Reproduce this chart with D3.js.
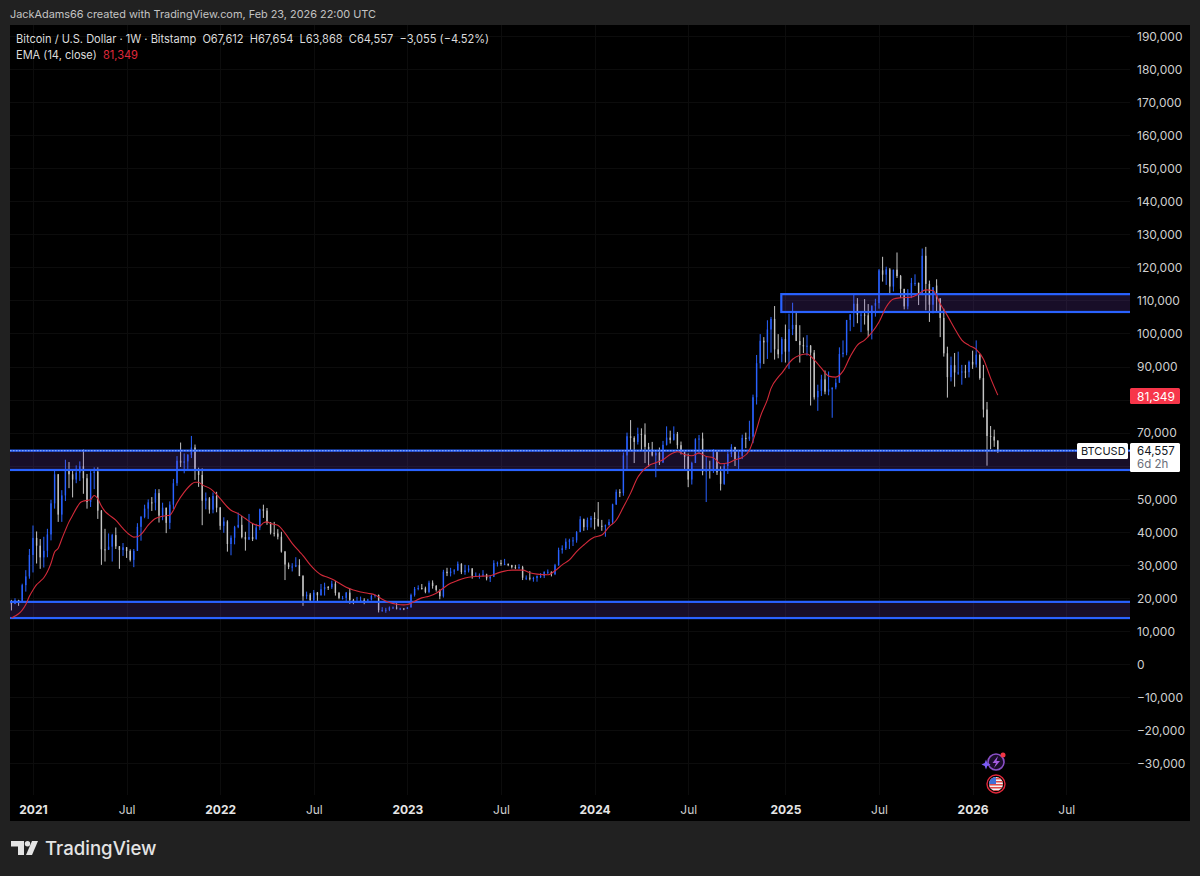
<!DOCTYPE html>
<html>
<head>
<meta charset="utf-8">
<script src="https://cdn.jsdelivr.net/npm/d3@7"></script>
<style>
  html, body { margin: 0; padding: 0; background: #212121; }
  svg { display: block; font-family: Inter, "Noto Sans", sans-serif; }
</style>
</head>
<body>
<svg id="chart" width="1200" height="876"></svg>
<script>
// weekly bars, Monday open, first bar is the week of 2020-11-23
const opens = [
  18400,18200,19370,18800,23850,26500,
  33000,38150,35800,32260,34250,39200,48600,57400,45200,51000,59000,57400,55800,57900,59800,56200,49000,57800,58200,46400,34700,34600,35500,39000,35600,34500,35300,34200,31500,34200,41500,44500,47000,48900,48800,51700,44900,47300,42700,48200,54700,61500,60900,61300,63300,65500,59000,57200,49400,50100,46700,50800,
  47300,41800,43100,36300,38200,41400,42100,38400,37700,38400,37800,41300,46800,46400,42800,39700,39500,38500,34000,30100,29400,29500,29900,26600,20500,21000,19300,21600,20800,22600,23300,23200,24300,21500,20000,20000,21600,19400,18800,19000,19400,19200,19500,20600,20900,16300,16300,16400,17100,17100,16800,16800,
  16700,17100,20900,22700,23000,22900,21800,24600,23600,22400,20500,27900,27500,28000,28300,30300,27800,28300,28900,26700,26700,26800,27100,25900,26400,30500,30600,30300,30300,29900,29300,29000,29300,26100,26100,25900,26000,26600,26600,27900,27900,27200,29900,34500,35000,37000,37400,37400,39900,43800,41400,43600,
  44200,43900,41800,41600,42000,43000,48300,52100,51700,63100,68900,68400,67200,69600,69400,65700,64900,63100,63900,61000,66300,68500,67800,69600,66200,64300,62700,55800,60800,68000,68200,58200,58700,58400,64100,58000,54500,59900,63500,65700,62000,63000,68400,68100,68800,80700,91000,97800,97300,101200,104400,95200,93700,
  98300,94500,101300,102600,97700,96500,96100,96300,94200,80700,82600,86100,82400,83100,83700,85100,93800,94200,104100,106500,109000,105700,105700,105500,100900,108400,109200,119100,117800,119400,114200,119300,117400,113500,108200,111100,115300,115300,112100,123500,115000,108700,114500,110600,104700,94000,86800,90400,88200,88200,88500,88300,
  91400,90600,93600,86500,77000,69000,68800,67612
];
const highs = [
  19400,19900,19420,24300,28400,34800,
  41900,40100,37800,38500,40900,49700,58400,57500,52600,61800,61100,58400,60100,61300,64900,57500,58500,59500,59500,46600,40900,39500,39400,41300,35700,36600,35400,34700,34800,42600,44800,48200,49800,50500,52900,52900,48800,47300,49200,56000,62900,67000,63700,63500,69000,66400,59400,59200,51900,50500,51900,52100,
  47500,44400,43500,38900,41800,45800,44800,40000,45400,42600,42400,47000,48200,47200,42900,43000,40800,40000,34200,30700,30500,32300,31700,26900,21900,21500,22400,21800,24200,24600,23600,25200,25100,21800,20600,21800,22800,19700,20300,20400,19900,19700,21000,21000,21000,17200,17000,17400,17400,18400,17000,16900,
  17200,21300,23300,23800,24200,23400,25200,25300,23900,22600,28500,29100,29100,28700,31000,30500,30000,29900,29000,27700,27400,28400,27300,26800,31400,31000,31500,31800,30400,30000,30000,30200,29700,26800,28100,26400,26800,27500,28000,28600,28000,30300,35200,35900,38000,37900,38400,40200,44700,44000,44300,44800,
  45900,49000,43600,42200,43800,48500,52800,52900,64000,70000,73800,68900,71500,71300,72800,66900,67200,64700,65500,67500,71900,70600,71900,70200,67300,63400,63700,61200,68300,69300,70000,62700,61500,65000,64500,59800,60600,64100,66500,65600,64500,69400,70000,73600,81500,93500,99800,98900,104000,105000,108300,99800,98900,
  102700,106000,109300,106500,102500,98800,99500,96500,95000,84500,87500,88800,88500,83500,86400,95800,97900,104000,105800,112000,110700,106800,110400,108900,108500,110500,119500,123200,120200,119800,119300,124500,117700,113500,113400,116800,117900,115400,125700,126200,116000,114000,116400,110700,107500,96000,93000,94100,94500,90500,90500,91800,
  94800,97900,93700,90500,79300,72000,70900,67654
];
const lows = [
  16200,18100,17600,18700,21900,25800,
  27700,30400,28800,29200,32300,37400,47000,43000,43000,49300,53200,50400,54700,55400,51500,47000,47500,52900,43900,30000,31000,34500,31000,34800,28800,32700,32100,31000,29300,34200,37300,44100,43900,46300,46500,42800,43500,39600,40800,46900,53900,59600,57700,59000,62300,55700,53600,42000,46800,45500,45600,45900,
  40600,39700,34000,32900,36200,41100,38000,34300,37500,37200,37600,40500,44200,42100,39200,38600,37700,33700,25400,28700,28000,29300,26600,17600,19600,18600,19000,18900,20700,20700,22400,22700,20700,19600,19500,18500,18200,18100,18500,19100,18100,18900,19200,20100,15600,15800,15500,16000,16700,16500,16300,16300,
  16600,17100,20400,22300,22500,21400,21400,22800,21900,19600,20100,26600,26500,27100,28200,27200,27000,27700,25800,26500,25800,26500,25300,24800,26300,29500,29700,29900,29600,28900,28700,28700,25400,25400,25300,24900,24900,26000,26000,27200,26500,26900,29700,33400,34500,34800,35700,36700,39900,40300,40500,41300,
  40700,41500,40300,38500,41900,42300,48100,50500,50900,59000,64500,60800,66400,64500,60800,59700,62800,56500,60200,60800,66100,66700,67600,65100,63400,58400,53500,54300,60800,63500,57100,49000,56100,57800,57200,52500,54200,57500,62600,59900,58900,62000,65300,67500,66800,78500,89400,90800,92300,94200,92100,92500,91300,
  91200,89300,99500,97800,91200,94100,93300,78200,80000,76600,81100,81600,81300,74500,83100,85100,92800,93400,100700,102000,103100,100400,102700,98900,98200,105100,107500,115700,114700,112000,112700,116800,110700,107300,107300,110700,114400,108600,111600,107000,103500,106100,106300,98900,93000,80600,85500,83900,87500,84500,86500,86700,
  89300,89700,86000,74600,60000,65000,65700,63868
];
const closes = [
  18200,19370,18800,23850,26500,33000,
  38150,35800,32260,34250,39200,48600,57400,45200,51000,59000,57400,55800,57900,59800,56200,49000,57800,58200,46400,34700,34600,35500,39000,35600,34500,35300,34200,31500,34200,41500,44500,47000,48900,48800,51700,44900,47300,42700,48200,54700,61500,60900,61300,63300,65500,59000,57200,49400,50100,46700,50800,47300,
  41800,43100,36300,38200,41400,42100,38400,37700,38400,37800,41300,46800,46400,42800,39700,39500,38500,34000,30100,29400,29500,29900,26600,20500,21000,19300,21600,20800,22600,23300,23200,24300,21500,20000,20000,21600,19400,18800,19000,19400,19200,19500,20600,20900,16300,16300,16400,17100,17100,16800,16800,16700,
  17100,20900,22700,23000,22900,21800,24600,23600,22400,20500,27900,27500,28000,28300,30300,27800,28300,28900,26700,26700,26800,27100,25900,26400,30500,30600,30300,30300,29900,29300,29000,29300,26100,26100,25900,26000,26600,26600,27900,27900,27200,29900,34500,35000,37000,37400,37400,39900,43800,41400,43600,44200,
  43900,41800,41600,42000,43000,48300,52100,51700,63100,68900,68400,67200,69600,69400,65700,64900,63100,63900,61000,66300,68500,67800,69600,66200,64300,62700,55800,60800,68000,68200,58200,58700,58400,64100,58000,54500,59900,63500,65700,62000,63000,68400,68100,68800,80700,91000,97800,97300,101200,104400,95200,93700,98300,
  94500,101300,102600,97700,96500,96100,96300,94200,80700,82600,86100,82400,83100,83700,85100,93800,94200,104100,105800,109000,105700,105700,105500,100900,108400,109200,119100,117800,119400,114200,119300,117400,113500,108200,111100,115300,115300,112100,123500,115000,108700,114000,110600,104700,94000,86800,90400,88200,88200,88500,88300,91400,
  90600,93600,86500,77000,69000,68800,67612,64557
];

// EMA: bar index and value
const emaBars = [0,2,3,4,5,6,7,8,9,10,11,12,13,14,15,16,17,18,19,20,21,22,23,24,25,26,27,29,31,33,34,35,36,38,40,42,44,45,46,48,50,51,52,53,55,56,58,60,61,63,65,67,69,70,71,72,74,76,78,80,81,83,85,86,88,89,91,93,95,97,99,101,103,105,107,109,110,111,112,114,116,118,120,122,124,126,128,131,133,135,137,139,142,144,146,149,151,153,155,157,159,161,162,164,166,168,170,172,174,175,177,179,181,183,185,187,189,191,193,195,197,199,201,203,205,207,208,210,211,213,214,216,217,219,221,223,225,227,229,231,233,235,237,239,241,243,245,247,250,252,254,256,258,260,262,264,266,268,270,272,274];
const emaValues = [13900,15200,16300,18000,20500,22400,24000,25000,26100,27900,30500,33900,35000,37800,40500,43000,45000,47000,48700,49300,49500,49800,51000,50000,47800,46200,45200,43500,41000,39000,38400,38500,39200,42000,44000,44700,45000,46500,48700,52000,54400,55000,55000,54200,53200,52400,50000,47500,46500,45500,44000,42500,41800,42700,43000,42500,42000,39600,36500,34000,32800,30000,27800,27000,26200,25700,24500,23200,22400,21800,21400,20900,19600,18600,18100,17900,18000,18400,19000,20000,20500,21400,23000,24400,25300,26000,26400,26600,26700,27500,28100,28400,28400,27600,27200,27000,28200,30000,31500,34000,36000,37800,38400,39000,41500,43500,47500,51700,56500,58000,60000,60900,61800,63400,64200,63400,63000,63800,62800,62400,60600,60800,61800,62500,64700,71000,74700,80000,83400,86800,88000,91000,92200,93400,93800,92000,89500,87100,86800,88600,93000,96500,98000,100300,103500,108000,110400,110800,111000,112000,113200,113000,109000,105400,101500,98000,96400,95200,92300,86500,81349];

const priceTicks = [190000,180000,170000,160000,150000,140000,130000,120000,110000,100000,90000,70000,50000,40000,30000,20000,10000,0,-10000,-20000,-30000];
const gridPrices = d3.range(-30000, 200000, 10000);
const timeTicks = ["2021-01-04","2021-07-05","2022-01-03","2022-07-04","2023-01-02","2023-07-03","2024-01-01","2024-07-01","2025-01-06","2025-07-07","2026-01-05","2026-07-06"];
const timeLabels = ["2021","Jul","2022","Jul","2023","Jul","2024","Jul","2025","Jul","2026","Jul"];

// price zones, [top, bottom, first date]
const zoneTop = [111900, 64557, 18800];
const zoneBottom = [106500, 58700, 13900];
const zoneStart = ["2024-12-30", null, null];
const lastClose = 64557;
const lastEma = 81349;

const svg = d3.select("#chart");
const plotLeft = 10, plotRight = 1130, panelRight = 1190, panelTop = 25, panelBottom = 821;
const blue = "#2962ff", textColor = "#cfcfcf";

const firstWeek = new Date(Date.UTC(2020, 10, 23));
const weeks = closes.map((c, i) => d3.utcDay.offset(firstWeek, i * 7));

const xScale = d3.scaleUtc()
  .domain([new Date("2021-01-04"), new Date("2026-01-05")])
  .range([33, 972.6]);
const yScale = d3.scaleLinear().domain([0, 190000]).range([664, 36]);

svg.append("rect").attr("x", plotLeft).attr("y", panelTop)
  .attr("width", panelRight - plotLeft).attr("height", panelBottom - panelTop).attr("fill", "#000");

svg.append("defs").append("clipPath").attr("id", "plot-clip").append("rect")
  .attr("x", plotLeft).attr("y", panelTop).attr("width", plotRight - plotLeft).attr("height", panelBottom - panelTop);

/**
 * grid
 */
const grid = svg.append("g").attr("stroke", "#0c0c0c").attr("stroke-width", 1);
gridPrices.forEach((p) => {
  grid.append("line").attr("x1", plotLeft).attr("x2", plotRight)
    .attr("y1", Math.round(yScale(p)) + 0.5).attr("y2", Math.round(yScale(p)) + 0.5);
});
timeTicks.forEach((t) => {
  const x = Math.round(xScale(new Date(t))) + 0.5;
  grid.append("line").attr("x1", x).attr("x2", x).attr("y1", panelTop).attr("y2", 795);
});

/**
 * candles
 */
const plot = svg.append("g").attr("clip-path", "url(#plot-clip)");
const bars = plot.append("g").selectAll("g").data(weeks).enter().append("g")
  .attr("fill", (d, i) => (closes[i] >= opens[i] ? blue : "#c4c4c4"));

bars.append("rect")
  .attr("x", (d) => xScale(d) - 0.5)
  .attr("width", 1)
  .attr("y", (d, i) => yScale(highs[i]))
  .attr("height", (d, i) => yScale(lows[i]) - yScale(highs[i]));

bars.append("rect")
  .attr("x", (d) => xScale(d) - 0.7)
  .attr("width", 1.4)
  .attr("y", (d, i) => yScale(Math.max(opens[i], closes[i])))
  .attr("height", (d, i) => Math.max(1, Math.abs(yScale(opens[i]) - yScale(closes[i]))));

/**
 * zones sit over the candles
 */
zoneTop.forEach((top, i) => {
  const x0 = zoneStart[i] ? xScale(new Date(zoneStart[i])) - 0.5 : plotLeft - 3;
  plot.append("rect")
    .attr("x", x0).attr("width", plotRight + 3 - x0)
    .attr("y", yScale(top)).attr("height", yScale(zoneBottom[i]) - yScale(top))
    .attr("fill", "rgba(120,70,200,0.2)")
    .attr("stroke", blue).attr("stroke-width", 2.2);
});

plot.append("line")
  .attr("x1", plotLeft).attr("x2", plotRight)
  .attr("y1", yScale(lastClose)).attr("y2", yScale(lastClose))
  .attr("stroke", "#7ea4ff").attr("stroke-width", 1.4).attr("stroke-dasharray", "1.5 1.5");

const emaLine = d3.line()
  .x((d, i) => xScale(weeks[emaBars[i]]))
  .y((d) => yScale(d))
  .curve(d3.curveMonotoneX);

plot.append("path").attr("d", emaLine(emaValues))
  .attr("fill", "none").attr("stroke", "#d32a3a").attr("stroke-width", 1.1);

/**
 * axes
 */
const yAxis = d3.axisRight(yScale).tickValues(priceTicks).tickSize(0).tickPadding(0).tickFormat(d3.format(","));
const yG = svg.append("g").attr("transform", "translate(1137,0.5)").call(yAxis);
yG.select(".domain").remove();
yG.selectAll("text").attr("fill", textColor).style("font-size", "12px").style("font-family", "Inter");

const xAxis = d3.axisBottom(xScale).tickValues(timeTicks.map((t) => new Date(t))).tickSize(0).tickPadding(0)
  .tickFormat((d, i) => timeLabels[i]);
const xG = svg.append("g").attr("transform", "translate(0,805)").call(xAxis);
xG.select(".domain").remove();
xG.selectAll("text")
  .attr("fill", (d, i) => (timeLabels[i] === "Jul" ? textColor : "#e6e6e6"))
  .style("font-size", "12px").style("font-family", "Inter")
  .style("font-weight", (d, i) => (timeLabels[i] === "Jul" ? 400 : 700));

/**
 * price tags
 */
svg.append("rect").attr("x", 1130).attr("y", 388).attr("width", 50).attr("height", 16).attr("rx", 1.5).attr("fill", "#f7364a");
svg.append("text").attr("x", 1137).attr("y", 400.5).attr("fill", "#fff").style("font-size", "12px").text(d3.format(",")(lastEma));

svg.append("rect").attr("x", 1077).attr("y", 443).attr("width", 51).attr("height", 16).attr("rx", 1.5).attr("fill", "#fff");
svg.append("text").attr("x", 1081).attr("y", 455).attr("fill", "#131722").style("font-size", "11px").text("BTCUSD");
svg.append("rect").attr("x", 1130).attr("y", 443).attr("width", 50).attr("height", 29).attr("rx", 1.5).attr("fill", "#fff");
svg.append("text").attr("x", 1137).attr("y", 455).attr("fill", "#131722").style("font-size", "11.5px").text(d3.format(",")(lastClose));
svg.append("text").attr("x", 1137).attr("y", 468).attr("fill", "#6a6d78").style("font-size", "11.5px").text("6d 2h");

/**
 * header and legend
 */
svg.append("text").attr("x", 10).attr("y", 18).attr("fill", "#c4c4c4").style("font-size", "10.9px")
  .text("JackAdams66 created with TradingView.com, Feb 23, 2026 22:00 UTC");

const legend = svg.append("text").attr("x", 16).attr("y", 43).attr("fill", "#dcdcdc").style("font-size", "11.05px");
legend.text("Bitcoin / U.S. Dollar · 1W · Bitstamp  O67,612  H67,654  L63,868  C64,557  −3,055 (−4.52%)").style("white-space", "pre");

const legend2 = svg.append("text").attr("x", 16).attr("y", 59).attr("fill", "#dcdcdc").style("font-size", "11.05px").style("white-space", "pre");
legend2.append("tspan").text("EMA (14, close)  ");
legend2.append("tspan").attr("fill", "#e0293c").text("81,349");

/**
 * event icons
 */
const icons = svg.append("g");
icons.append("circle").attr("cx", 996).attr("cy", 762).attr("r", 8).attr("fill", "#1a0d2a").attr("stroke", "#8a4fc7").attr("stroke-width", 1.6);
icons.append("path").attr("d", "M998 756 L992.5 763 L996 763 L994 768 L1000 761 L996.500 761 Z").attr("fill", "#a45be0");
icons.append("path").attr("d", "M986 759.500 L987.300 763 L990.500 764.500 L987.300 766 L986 769.500 L984.700 766 L981.500 764.500 L984.700 763 Z").attr("fill", "#7a5cf5");
icons.append("circle").attr("cx", 1003).attr("cy", 755).attr("r", 2.5).attr("fill", "#f23645");
icons.append("circle").attr("cx", 996).attr("cy", 784).attr("r", 9).attr("fill", "#000").attr("stroke", "#e0273a").attr("stroke-width", 1.4);
const flag = icons.append("g");
flag.append("clipPath").attr("id", "flag-clip").append("circle").attr("cx", 996).attr("cy", 784).attr("r", 7);
const flagG = flag.append("g").attr("clip-path", "url(#flag-clip)");
flagG.append("rect").attr("x", 989).attr("y", 777).attr("width", 14).attr("height", 14).attr("fill", "#f2f2f2");
[778, 781, 784, 787, 790].forEach((y) => {
  flagG.append("rect").attr("x", 989).attr("y", y).attr("width", 14).attr("height", 1.5).attr("fill", "#e04a4a");
});
flagG.append("rect").attr("x", 989).attr("y", 777).attr("width", 7).attr("height", 7).attr("fill", "#3f6fd8");

/**
 * logo
 */
const logo = svg.append("g").attr("fill", "#e4e4e4");
logo.append("path").attr("d", "M11 841 H24 V855 H18 V846.500 H11 Z");
logo.append("circle").attr("cx", 27.5).attr("cy", 843.7).attr("r", 2.7);
logo.append("path").attr("d", "M32 841 H38 L32 855 H26 Z");
logo.append("text").attr("x", 45).attr("y", 855).style("font-size", "18.6px").style("font-weight", 500).text("TradingView");
</script>
</body>
</html>
